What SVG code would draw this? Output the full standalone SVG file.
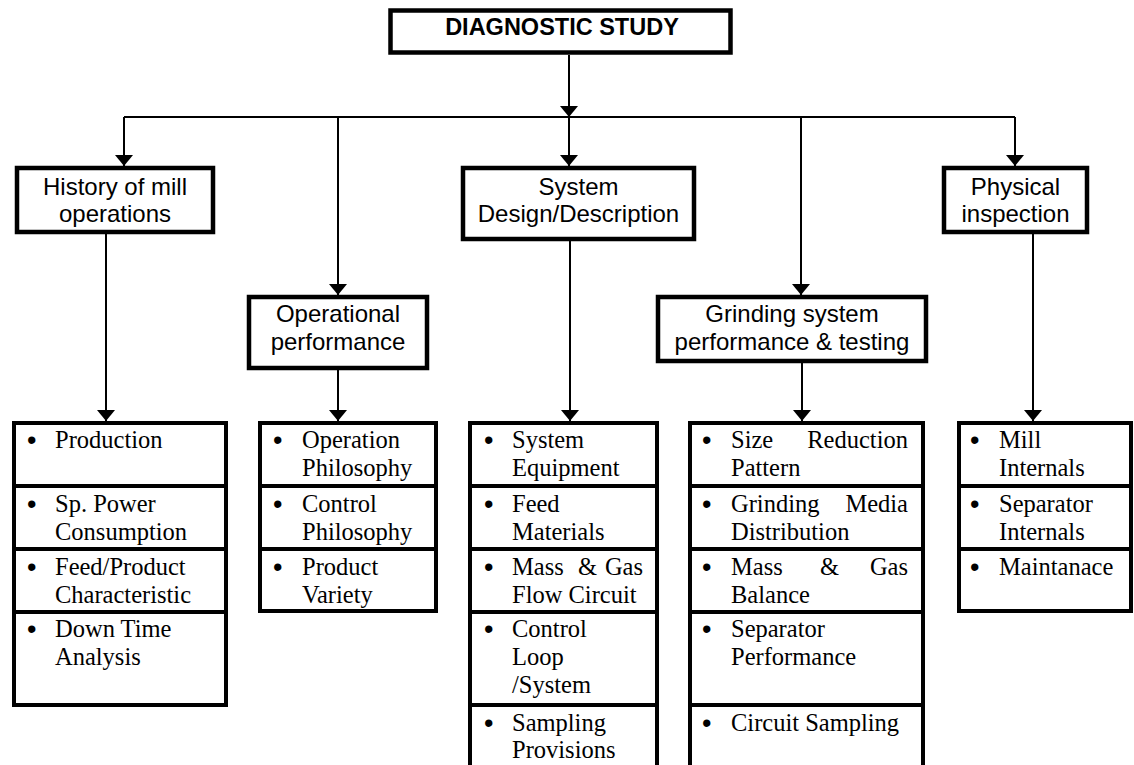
<svg xmlns="http://www.w3.org/2000/svg" width="1134" height="765" viewBox="0 0 1134 765">
<defs>
<marker id="ah" markerUnits="userSpaceOnUse" markerWidth="11" markerHeight="18" refX="11" refY="9" orient="auto">
<path d="M0,0 L11,9 L0,18 z" fill="#000"/>
</marker>
<style>
.box{fill:#fff;stroke:#000;stroke-width:4.5}
.lst{fill:#fff;stroke:#000;stroke-width:4}
.sep{stroke:#000;stroke-width:4}
.con{fill:none;stroke:#000;stroke-width:2}
.arr{fill:none;stroke:#000;stroke-width:2;marker-end:url(#ah)}
.t{font-family:"Liberation Sans",Arial,sans-serif;font-size:24px;fill:#000;text-anchor:middle}
.tb{font-family:"Liberation Sans",Arial,sans-serif;font-size:23.5px;font-weight:bold;fill:#000;text-anchor:middle}
.s{font-family:"Liberation Serif","Times New Roman",serif;font-size:24.5px;fill:#000}
.b{font-family:"Liberation Sans",Arial,sans-serif;font-size:27px;fill:#000}
.e{text-anchor:end}
</style>
</defs>
<rect width="1134" height="765" fill="#fff"/>
<g id="connectors">
<line class="arr" x1="569" y1="55" x2="569" y2="117"/>
<line class="con" x1="124" y1="117" x2="1015" y2="117"/>
<line class="arr" x1="124" y1="117" x2="124" y2="166"/>
<line class="arr" x1="338" y1="117" x2="338" y2="295"/>
<line class="arr" x1="569" y1="117" x2="569" y2="166"/>
<line class="arr" x1="801" y1="117" x2="801" y2="295"/>
<line class="arr" x1="1015" y1="117" x2="1015" y2="166"/>
<line class="arr" x1="106" y1="234" x2="106" y2="421"/>
<line class="arr" x1="338" y1="370" x2="338" y2="421"/>
<line class="arr" x1="570" y1="241" x2="570" y2="421"/>
<line class="arr" x1="802" y1="363" x2="802" y2="421"/>
<line class="arr" x1="1033" y1="234" x2="1033" y2="421"/>
</g>
<g id="diagnostic-study">
<rect class="box" x="390.5" y="10.5" width="340" height="42"/>
<text class="tb" x="562" y="35">DIAGNOSTIC STUDY</text>
</g>
<g id="history">
<rect class="box" x="17" y="168" width="196" height="64"/>
<text class="t" x="115" y="195">History of mill</text>
<text class="t" x="115" y="222">operations</text>
</g>
<g id="system-design">
<rect class="box" x="463" y="168" width="231" height="71"/>
<text class="t" x="578.5" y="195">System</text>
<text class="t" x="578.5" y="222">Design/Description</text>
</g>
<g id="physical-inspection">
<rect class="box" x="944" y="168" width="143" height="64"/>
<text class="t" x="1015.5" y="195">Physical</text>
<text class="t" x="1015.5" y="222">inspection</text>
</g>
<g id="operational-performance">
<rect class="box" x="249" y="297" width="178" height="71"/>
<text class="t" x="338" y="322">Operational</text>
<text class="t" x="338" y="350">performance</text>
</g>
<g id="grinding-system">
<rect class="box" x="658" y="297" width="268" height="64"/>
<text class="t" x="792" y="322">Grinding system</text>
<text class="t" x="792" y="350">performance &amp; testing</text>
</g>
<g id="history-list">
<rect class="lst" x="14" y="423" width="212" height="282"/>
<line class="sep" x1="14" y1="486" x2="226" y2="486"/>
<line class="sep" x1="14" y1="549" x2="226" y2="549"/>
<line class="sep" x1="14" y1="612" x2="226" y2="612"/>
<text class="b" x="27" y="449">•</text><text class="s" x="55" y="448">Production</text>
<text class="b" x="27" y="513">•</text><text class="s" x="55" y="512">Sp. Power</text>
<text class="s" x="55" y="540">Consumption</text>
<text class="b" x="27" y="576">•</text><text class="s" x="55" y="575">Feed/Product</text>
<text class="s" x="55" y="603">Characteristic</text>
<text class="b" x="27" y="638">•</text><text class="s" x="55" y="637">Down Time</text>
<text class="s" x="55" y="665">Analysis</text>
</g>
<g id="operational-list">
<rect class="lst" x="260" y="423" width="176" height="188"/>
<line class="sep" x1="260" y1="486" x2="436" y2="486"/>
<line class="sep" x1="260" y1="549" x2="436" y2="549"/>
<text class="b" x="273" y="449">•</text><text class="s" x="302" y="448">Operation</text>
<text class="s" x="302" y="476">Philosophy</text>
<text class="b" x="273" y="513">•</text><text class="s" x="302" y="512">Control</text>
<text class="s" x="302" y="540">Philosophy</text>
<text class="b" x="273" y="576">•</text><text class="s" x="302" y="575">Product</text>
<text class="s" x="302" y="603">Variety</text>
</g>
<g id="system-list">
<rect class="lst" x="470" y="423" width="187" height="360"/>
<line class="sep" x1="470" y1="486" x2="657" y2="486"/>
<line class="sep" x1="470" y1="549" x2="657" y2="549"/>
<line class="sep" x1="470" y1="612" x2="657" y2="612"/>
<line class="sep" x1="470" y1="705" x2="657" y2="705"/>
<text class="b" x="484" y="449">•</text><text class="s" x="512" y="448">System</text>
<text class="s" x="512" y="476">Equipment</text>
<text class="b" x="484" y="513">•</text><text class="s" x="512" y="512">Feed</text>
<text class="s" x="512" y="540">Materials</text>
<text class="b" x="484" y="576">•</text><text class="s" x="512" y="575">Mass</text><text class="s" x="578" y="575">&amp;</text><text class="s e" x="643" y="575">Gas</text>
<text class="s" x="512" y="603">Flow Circuit</text>
<text class="b" x="484" y="638">•</text><text class="s" x="512" y="637">Control</text>
<text class="s" x="512" y="665">Loop</text>
<text class="s" x="512" y="693">/System</text>
<text class="b" x="484" y="732">•</text><text class="s" x="512" y="731">Sampling</text>
<text class="s" x="512" y="758">Provisions</text>
</g>
<g id="grinding-list">
<rect class="lst" x="690" y="423" width="233" height="360"/>
<line class="sep" x1="690" y1="486" x2="923" y2="486"/>
<line class="sep" x1="690" y1="549" x2="923" y2="549"/>
<line class="sep" x1="690" y1="612" x2="923" y2="612"/>
<line class="sep" x1="690" y1="705" x2="923" y2="705"/>
<text class="b" x="702" y="449">•</text><text class="s" x="731" y="448">Size</text><text class="s e" x="908" y="448">Reduction</text>
<text class="s" x="731" y="476">Pattern</text>
<text class="b" x="702" y="513">•</text><text class="s" x="731" y="512">Grinding</text><text class="s e" x="908" y="512">Media</text>
<text class="s" x="731" y="540">Distribution</text>
<text class="b" x="702" y="576">•</text><text class="s" x="731" y="575">Mass</text><text class="s" x="820" y="575">&amp;</text><text class="s e" x="908" y="575">Gas</text>
<text class="s" x="731" y="603">Balance</text>
<text class="b" x="702" y="638">•</text><text class="s" x="731" y="637">Separator</text>
<text class="s" x="731" y="665">Performance</text>
<text class="b" x="702" y="732">•</text><text class="s" x="731" y="731">Circuit Sampling</text>
</g>
<g id="physical-list">
<rect class="lst" x="959" y="423" width="172" height="188"/>
<line class="sep" x1="959" y1="486" x2="1131" y2="486"/>
<line class="sep" x1="959" y1="549" x2="1131" y2="549"/>
<text class="b" x="970" y="449">•</text><text class="s" x="999" y="448">Mill</text>
<text class="s" x="999" y="476">Internals</text>
<text class="b" x="970" y="513">•</text><text class="s" x="999" y="512">Separator</text>
<text class="s" x="999" y="540">Internals</text>
<text class="b" x="970" y="576">•</text><text class="s" x="999" y="575">Maintanace</text>
</g>
</svg>
